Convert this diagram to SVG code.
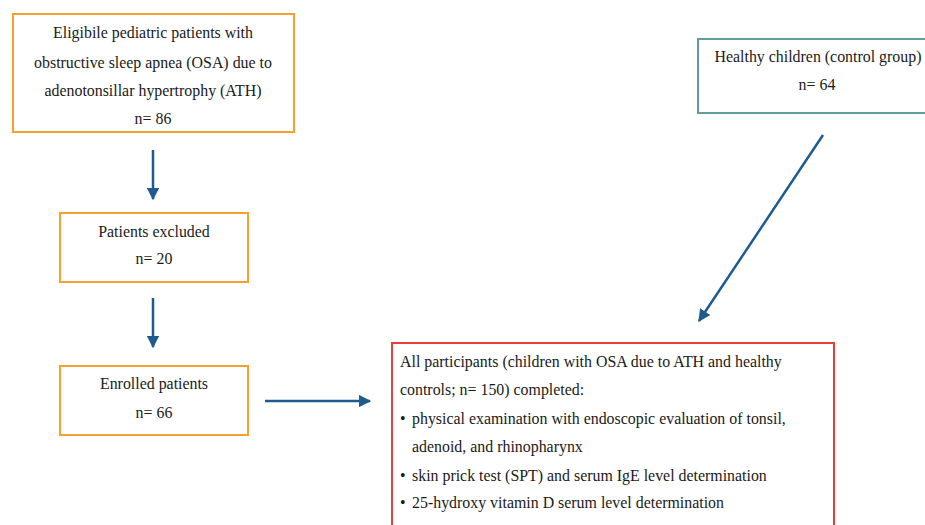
<svg xmlns="http://www.w3.org/2000/svg" width="925" height="525" viewBox="0 0 925 525">
<style>
text{font-family:"Liberation Serif","Times New Roman",serif;font-size:15.9px;fill:#1a1a1a}
.c{text-anchor:middle}
.or{fill:#fff;stroke:#F7A032;stroke-width:2}
.gr{fill:#fff;stroke:#5E9E96;stroke-width:2}
.rd{fill:#fff;stroke:#EE3B3B;stroke-width:2}
.ar{stroke:#1F5B8C;stroke-width:2.5;fill:none;marker-end:url(#ah)}
</style>
<defs>
<marker id="ah" viewBox="0 0 10 10" refX="9" refY="5" markerWidth="5" markerHeight="5" orient="auto" markerUnits="strokeWidth">
<path d="M0,0 L10,5 L0,10 z" fill="#1F5B8C"/>
</marker>
</defs>
<rect width="925" height="525" fill="#fff"/>
<g id="eligible">
<rect class="or" x="13" y="14" width="281" height="118"/>
<text class="c" x="153" y="38">Eligibile pediatric patients with</text>
<text class="c" x="153" y="68">obstructive sleep apnea (OSA) due to</text>
<text class="c" x="153" y="96">adenotonsillar hypertrophy (ATH)</text>
<text class="c" x="153" y="124">n= 86</text>
</g>
<g id="excluded">
<rect class="or" x="60" y="213" width="188" height="69"/>
<text class="c" x="154" y="237">Patients excluded</text>
<text class="c" x="154" y="264">n= 20</text>
</g>
<g id="enrolled">
<rect class="or" x="60" y="366" width="188" height="69"/>
<text class="c" x="154" y="389">Enrolled patients</text>
<text class="c" x="154" y="418">n= 66</text>
</g>
<g id="control">
<rect class="gr" x="698" y="39" width="240" height="74"/>
<text class="c" x="818" y="62">Healthy children (control group)</text>
<text class="c" x="817" y="90">n= 64</text>
</g>
<g id="all">
<rect class="rd" x="392" y="343" width="442" height="200"/>
<text x="400" y="367">All participants (children with OSA due to ATH and healthy</text>
<text x="400" y="395">controls; n= 150) completed:</text>
<text x="400" y="424">•</text><text x="412" y="424">physical examination with endoscopic evaluation of tonsil,</text>
<text x="412" y="452">adenoid, and rhinopharynx</text>
<text x="400" y="481">•</text><text x="412" y="481">skin prick test (SPT) and serum IgE level determination</text>
<text x="400" y="508">•</text><text x="412" y="508">25-hydroxy vitamin D serum level determination</text>
</g>
<g id="connectors">
<line class="ar" x1="153" y1="150" x2="153" y2="199"/>
<line class="ar" x1="153" y1="298" x2="153" y2="347"/>
<line class="ar" x1="265" y1="401" x2="370" y2="401"/>
<line class="ar" x1="823" y1="135" x2="699" y2="321"/>
</g>
</svg>
